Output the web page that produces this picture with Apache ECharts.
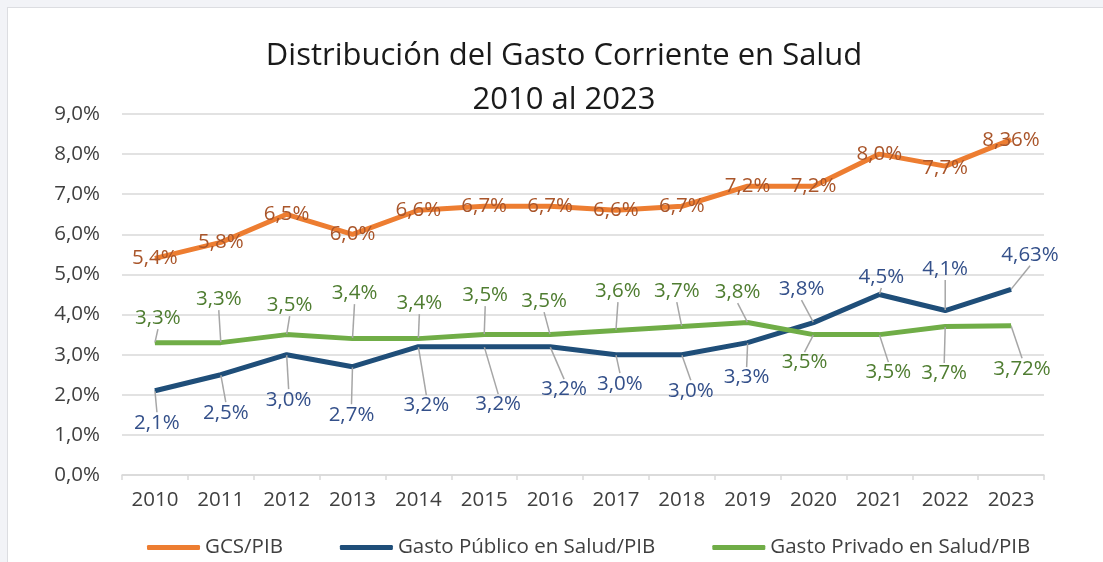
<!DOCTYPE html>
<html>
<head>
<meta charset="utf-8">
<script src="https://cdn.jsdelivr.net/npm/echarts@6/dist/echarts.min.js"></script>
<style>
  body { margin: 0; background: #f2f3f7; }
  #frame { position: absolute; left: 7px; top: 7px; width: 1110px; height: 570px; background: #fff; border: 1px solid #dcdde1; }
  #chart { position: absolute; left: 0; top: 0; width: 1103px; height: 562px; }
</style>
</head>
<body>
<div id="frame"></div>
<div id="chart"></div>
<script>
var years = ['2010','2011','2012','2013','2014','2015','2016','2017','2018','2019','2020','2021','2022','2023'];
var gcsPib     = [5.4, 5.8, 6.5, 6.0, 6.6, 6.7, 6.7, 6.6, 6.7, 7.2, 7.2, 8.0, 7.7, 8.36];
var publicoPib = [2.1, 2.5, 3.0, 2.7, 3.2, 3.2, 3.2, 3.0, 3.0, 3.3, 3.8, 4.5, 4.1, 4.63];
var privadoPib = [3.3, 3.3, 3.5, 3.4, 3.4, 3.5, 3.5, 3.6, 3.7, 3.8, 3.5, 3.5, 3.7, 3.72];
var seriesNames = ['GCS/PIB', 'Gasto Público en Salud/PIB', 'Gasto Privado en Salud/PIB'];

// desplazamiento de las etiquetas respecto al punto
var offsets = [
  [[0,0],[0,0],[0,0],[0,0],[0,0],[0,0],[0,0],[0,0],[0,0],[0,0],[0,0],[0,0],[0,2],[0,0]],
  [[2,32],[5,38],[2,45],[-1,48],[8,59],[14,58],[14,43],[4,29],[9,36],[-1,35],[-12,-33],[2,-17],[0,-41],[19,-34]],
  [[3,-24],[-2,-43],[3,-29],[2,-45],[1,-35],[1,-39],[-6,-33],[2,-39],[-5,-35],[-10,-30],[-9,28],[9,38],[-1,47],[11,43]]
];

var font = '"Open Sans", "Noto Sans", sans-serif';
var fs = 20.5;

function fmt(v) {
  var d = Math.abs(v * 10 - Math.round(v * 10)) < 1e-6 ? 1 : 2;
  return v.toFixed(d).replace('.', ',') + '%';
}

var chart = echarts.init(document.getElementById('chart'));

function lineSeries(name, data, color, labelColor, guide) {
  return {
    name: name,
    type: 'line',
    data: data,
    symbol: 'circle',
    symbolSize: 1,
    showSymbol: true,
    lineStyle: { color: color, width: 5 },
    itemStyle: { color: color },
    label: {
      show: true,
      position: 'inside',
      color: labelColor,
      fontFamily: font,
      fontSize: fs,
      formatter: function (p) { return fmt(p.value); }
    },
    labelLine: { show: guide, lineStyle: { color: '#a6a6a6', width: 1.5 } },
    labelLayout: function (p) {
      var o = offsets[p.seriesIndex][p.dataIndex];
      return { dx: o[0], dy: o[1] };
    },
    emphasis: { disabled: true },
    z: 2
  };
}

var option = {
  animation: false,
  title: {
    text: 'Distribución del Gasto Corriente en Salud\n2010 al 2023',
    left: 559,
    top: 29,
    textAlign: 'center',
    textStyle: { fontFamily: font, fontWeight: 'normal', fontSize: 31, lineHeight: 44, color: '#1a1a1a' }
  },
  legend: {
    data: seriesNames,
    top: 532,
    left: 142,
    itemWidth: 53,
    itemHeight: 5,
    itemGap: 57,
    icon: 'roundRect',
    textStyle: { fontFamily: font, fontSize: fs, color: '#404040' }
  },
  grid: { left: 122, right: 59, top: 114, bottom: 87 },
  xAxis: {
    type: 'category',
    data: years,
    boundaryGap: true,
    axisLine: { lineStyle: { color: '#d9d9d9', width: 1.5 } },
    axisTick: { show: true, length: 5, lineStyle: { color: '#d9d9d9', width: 1.5 } },
    axisLabel: { fontFamily: font, fontSize: fs, color: '#404040', margin: 15 }
  },
  yAxis: {
    type: 'value',
    min: 0,
    max: 9,
    interval: 1,
    axisLine: { show: false },
    axisTick: { show: false },
    splitLine: { lineStyle: { color: '#d9d9d9', width: 1.5 } },
    axisLabel: {
      fontFamily: font, fontSize: fs, color: '#404040', margin: 22,
      formatter: function (v) { return v.toFixed(1).replace('.', ',') + '%'; }
    }
  },
  series: [
    lineSeries(seriesNames[0], gcsPib, '#ed7d31', '#a9552a', false),
    lineSeries(seriesNames[1], publicoPib, '#1f4e79', '#34508a', true),
    lineSeries(seriesNames[2], privadoPib, '#70ad47', '#4f7d31', true)
  ]
};

chart.setOption(option);
</script>
</body>
</html>
